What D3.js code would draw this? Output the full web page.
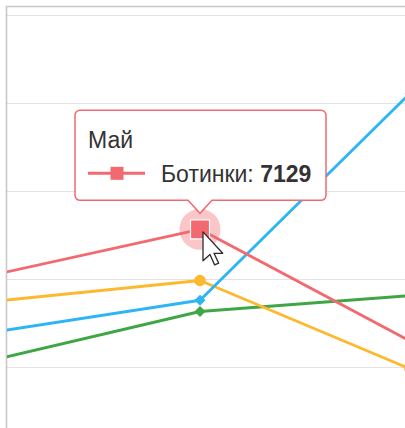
<!DOCTYPE html>
<html>
<head>
<meta charset="utf-8">
<script src="https://cdn.jsdelivr.net/npm/d3@7"></script>
<style>
  html, body { margin: 0; padding: 0; background: #fff; }
  svg { display: block; }
</style>
</head>
<body>
<svg id="chart" width="405" height="428"></svg>
<script>
// Monthly sales by footwear type
const months = ["Апр", "Май", "Июн"];
const seriesNames = ["Сандалии", "Туфли", "Кроссовки", "Ботинки"];
const sandalsValues = [4143, 5261, 5623];
const shoesValues = [5484, 5966, 3959];
const sneakersValues = [4782, 5516, 10218];
const bootsValues = [6077, 7129, 4591];
const yTicks = [4000, 6000, 8000, 10000, 12000];
const hoveredMonth = "Май";
const hoveredSeries = "Ботинки";

const W = 405, H = 428;
const plot = { left: 7, top: 7, right: 405, bottom: 428 };

const series = [
  { name: seriesNames[0], values: sandalsValues, color: "#3fa646", symbol: "diamond" },
  { name: seriesNames[1], values: shoesValues, color: "#fdb92e", symbol: "circle" },
  { name: seriesNames[2], values: sneakersValues, color: "#2fb5f4", symbol: "diamond" },
  { name: seriesNames[3], values: bootsValues, color: "#f2696f", symbol: "square" }
];

const svg = d3.select("#chart");

const x = d3.scalePoint().domain(months).range([-10, 410]);
const y = d3.scaleLinear().domain([4000, 12000]).range([367, 15]);

svg.append("defs").append("clipPath").attr("id", "plot-clip")
  .append("rect")
  .attr("x", plot.left).attr("y", plot.top)
  .attr("width", plot.right - plot.left).attr("height", plot.bottom - plot.top);

// horizontal grid
const grid = svg.append("g")
  .attr("transform", `translate(${plot.left},0)`)
  .call(d3.axisLeft(y).tickValues(yTicks).tickSize(-(plot.right - plot.left)).tickFormat(""));
grid.select(".domain").remove();
grid.selectAll(".tick line").attr("stroke", "#e3e3e3").attr("stroke-width", 1.2);

// frame
svg.append("path")
  .attr("d", `M${plot.left - 0.5},${H} V${plot.top - 0.5} H${W}`)
  .attr("fill", "none").attr("stroke", "#c8c8c8").attr("stroke-width", 1.6);

const body = svg.append("g").attr("clip-path", "url(#plot-clip)");

const line = d3.line()
  .x((d, i) => x(months[i]))
  .y(d => y(d));

const symbolPath = (kind) => {
  if (kind === "circle") return d3.symbol(d3.symbolCircle, 105)();
  if (kind === "square") return d3.symbol(d3.symbolSquare, 60)();
  return d3.symbol(d3.symbolSquare, 60)();
};

series.forEach(s => {
  const g = body.append("g");
  g.append("path")
    .attr("d", line(s.values))
    .attr("fill", "none")
    .attr("stroke", s.color)
    .attr("stroke-width", 2.9)
    .attr("stroke-linejoin", "round");

  const isHovered = s.name === hoveredSeries;
  g.selectAll("path.marker")
    .data(s.values)
    .join("path")
    .attr("class", "marker")
    .attr("transform", (d, i) => {
      const r = s.symbol === "diamond" ? " rotate(45)" : "";
      return `translate(${x(months[i])},${y(d)})${r}`;
    })
    .attr("d", (d, i) => (isHovered && months[i] === hoveredMonth) ? null : symbolPath(s.symbol))
    .attr("fill", s.color);

  if (isHovered) {
    const i = months.indexOf(hoveredMonth);
    const cx = x(months[i]), cy = y(s.values[i]);
    g.append("circle")
      .attr("cx", cx).attr("cy", cy).attr("r", 20.5)
      .attr("fill", s.color).attr("fill-opacity", 0.38);
    g.append("path")
      .attr("transform", `translate(${cx},${cy})`)
      .attr("d", d3.symbol(d3.symbolSquare, 19 * 19)())
      .attr("fill", s.color)
      .attr("stroke", "#fff").attr("stroke-width", 1.2);
  }
});

// tooltip for the hovered point
const hs = series.find(s => s.name === hoveredSeries);
const hi = months.indexOf(hoveredMonth);
const px = x(hoveredMonth), py = y(hs.values[hi]);

const boxW = 251, boxH = 90, rad = 5, arrowW = 12, arrowH = 13;
const bx = px - 125, by = py - 16 - arrowH - boxH;
const p = d3.path();
p.moveTo(bx + rad, by);
p.lineTo(bx + boxW - rad, by);
p.arcTo(bx + boxW, by, bx + boxW, by + rad, rad);
p.lineTo(bx + boxW, by + boxH - rad);
p.arcTo(bx + boxW, by + boxH, bx + boxW - rad, by + boxH, rad);
p.lineTo(px + arrowW, by + boxH);
p.lineTo(px, by + boxH + arrowH);
p.lineTo(px - arrowW, by + boxH);
p.lineTo(bx + rad, by + boxH);
p.arcTo(bx, by + boxH, bx, by + boxH - rad, rad);
p.lineTo(bx, by + rad);
p.arcTo(bx, by, bx + rad, by, rad);
p.closePath();

const tip = svg.append("g");
tip.append("path")
  .attr("d", p.toString())
  .attr("fill", "#fff")
  .attr("stroke", hs.color)
  .attr("stroke-width", 1.5);

const font = "'Liberation Sans', Arial, sans-serif";
tip.append("text")
  .attr("x", bx + 13).attr("y", by + 38)
  .attr("font-family", font).attr("font-size", 23)
  .attr("fill", "#333")
  .text(hoveredMonth);

const ly = by + 63;
tip.append("line")
  .attr("x1", bx + 13).attr("x2", bx + 70)
  .attr("y1", ly).attr("y2", ly)
  .attr("stroke", hs.color).attr("stroke-width", 3);
tip.append("path")
  .attr("transform", `translate(${bx + 42},${ly})`)
  .attr("d", d3.symbol(d3.symbolSquare, 13 * 13)())
  .attr("fill", hs.color);

const label = tip.append("text")
  .attr("x", bx + 86).attr("y", by + 72)
  .attr("font-family", font).attr("font-size", 23)
  .attr("fill", "#333");
label.append("tspan").text(hoveredSeries + ": ");
label.append("tspan").attr("font-weight", "bold").text(hs.values[hi]);

// mouse pointer over the hovered point
const arrow = [[0, 0], [0, 25], [6, 19.5], [10, 28.5], [13.5, 27], [9.5, 18.5], [17, 18.5]];
svg.append("path")
  .attr("transform", `translate(${px + 3},${py + 2.5}) scale(1.16)`)
  .attr("d", d3.line()(arrow) + "Z")
  .attr("fill", "#fff")
  .attr("stroke", "#2a2a2a")
  .attr("stroke-width", 1.1)
  .attr("stroke-linejoin", "round");
</script>
</body>
</html>
